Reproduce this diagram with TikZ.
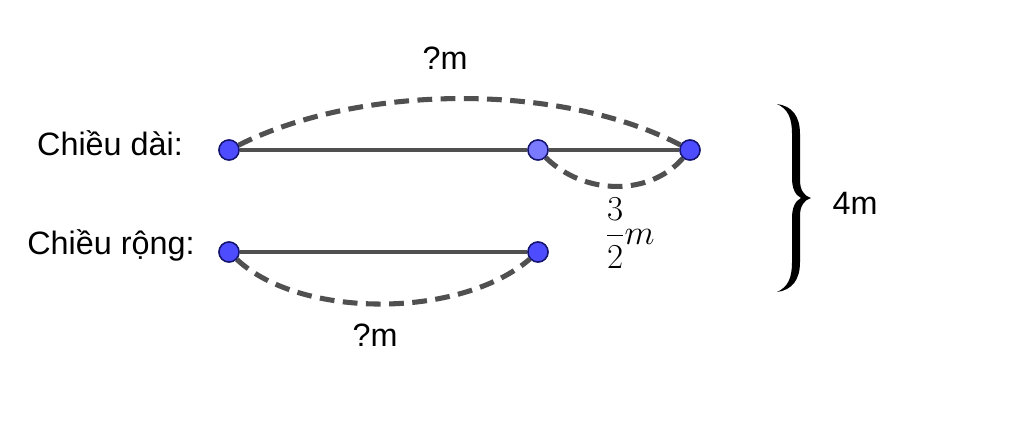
\documentclass[tikz,border=0pt]{standalone}
\usepackage{amsmath}
\usepackage{fontspec}
\setmainfont{Liberation Sans}
\usetikzlibrary{positioning}
\definecolor{ptblue}{RGB}{77,77,255}
\definecolor{ptlight}{RGB}{122,122,255}
\definecolor{ptedge}{RGB}{20,20,110}
\definecolor{segray}{RGB}{80,80,80}
\tikzset{
  pt/.style={circle, draw=ptedge, fill=ptblue, line width=1pt, minimum size=0.5cm, inner sep=0pt},
  seg/.style={draw=segray, line width=2.8pt},
  arc/.style={draw=segray, line width=3.6pt, dash pattern=on 10.5pt off 6pt},
  lbl/.style={font=\fontsize{23}{28}\selectfont, inner sep=0pt}
}
\begin{document}
\begin{tikzpicture}[x=0.025cm, y=-0.025cm]

    % Frame
    \fill[white] (0,0) rectangle (1024,423);

    % Define nodes
    \node (da) [pt] at (229,150) {};
    \node (db) [pt, fill=ptlight] at (538,150) {};
    \node (dc) [pt] at (690,150) {};
    \node (ra) [pt] at (229,252) {};
    \node (rb) [pt] at (538,252) {};

    \node (tdai) [lbl] at (110,143) {Chiều dài:};
    \node (trong) [lbl] at (111,245) {Chiều rộng:};
    \node (qtop) [lbl] at (445,58) {?m};
    \node (qbot) [lbl] at (375,335) {?m};
    \node (frac) [inner sep=0pt, font=\fontsize{30}{34}\selectfont] at (630,233) {$\dfrac{3}{2}m$};
    \node (four) [lbl] at (855,203) {4m};

    % Brace
    \fill[black] (777,104) .. controls (792,106) and (800,116) .. (800,134) -- (800,180)
      .. controls (800,190) and (804,196) .. (811,198)
      .. controls (804,200) and (800,206) .. (800,216) -- (800,262)
      .. controls (800,280) and (792,290) .. (777,292)
      .. controls (788,287) and (792,278) .. (792,262) -- (792,218)
      .. controls (792,208) and (795,201) .. (801,198)
      .. controls (795,195) and (792,188) .. (792,178) -- (792,134)
      .. controls (792,118) and (788,109) .. (777,104) -- cycle;

    % Draw segments
    \draw[seg] (da) -- (db);
    \draw[seg] (db) -- (dc);
    \draw[seg] (ra) -- (rb);

    % Draw arcs
    \draw[arc] (da) .. controls (360,84) and (560,82) .. (dc);
    \draw[arc] (db) .. controls (585,196) and (650,196) .. (dc);
    \draw[arc] (ra) .. controls (300,319) and (460,319) .. (rb);

    % Redraw points on top
    \node [pt] at (da) {};
    \node [pt, fill=ptlight] at (db) {};
    \node [pt] at (dc) {};
    \node [pt] at (ra) {};
    \node [pt] at (rb) {};

\end{tikzpicture}
\end{document}
